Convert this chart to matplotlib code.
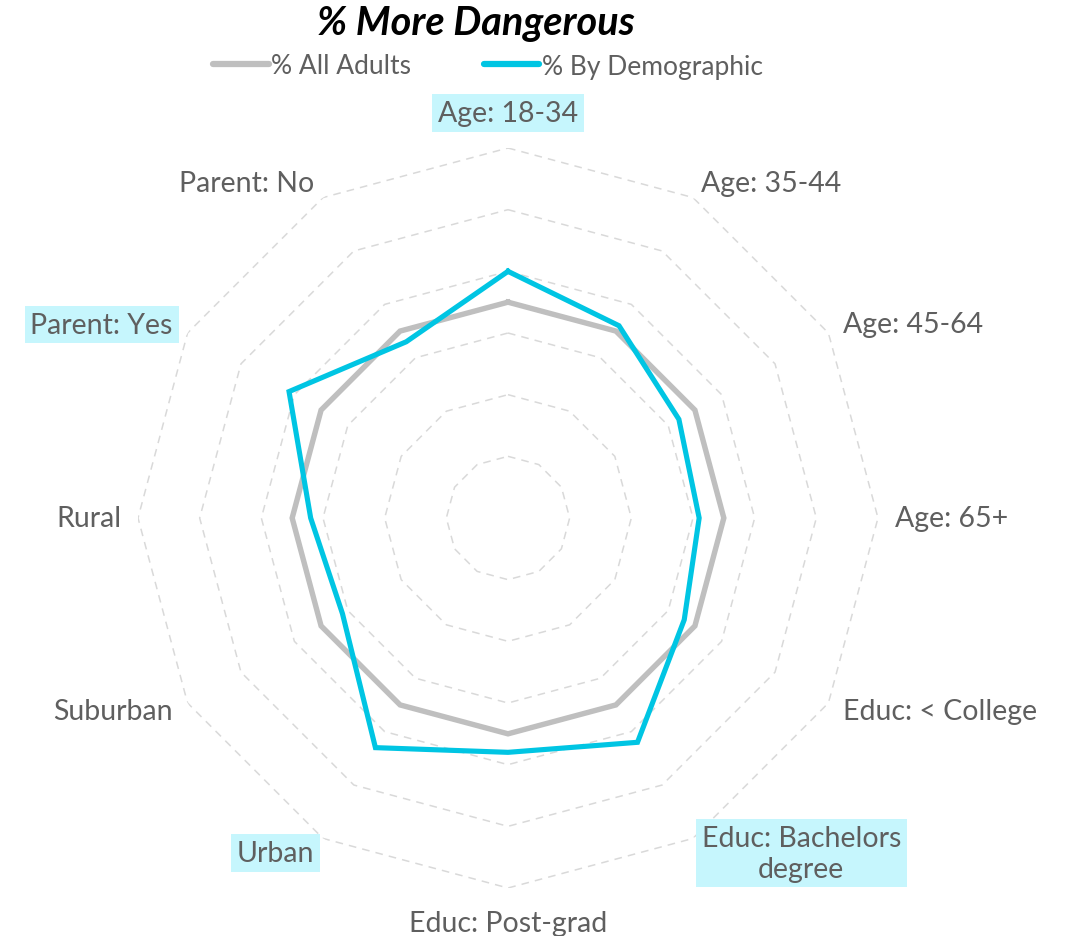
import numpy as np
import matplotlib
matplotlib.use("Agg")
import matplotlib.pyplot as plt
from matplotlib.lines import Line2D

categories = ["Age: 18-34", "Age: 35-44", "Age: 45-64", "Age: 65+",
              "Educ: < College", "Educ: Bachelors\ndegree", "Educ: Post-grad",
              "Urban", "Suburban", "Rural", "Parent: Yes", "Parent: No"]
all_adults = [35, 35, 35, 35, 35, 35, 35, 35, 35, 35, 35, 35]
by_demo = [40, 36, 32, 31, 33, 42, 38, 43, 31, 32, 41, 33]
highlighted = ["Age: 18-34", "Educ: Bachelors\ndegree", "Urban", "Parent: Yes"]
grid_levels = [10, 20, 30, 40, 50, 60]

GRAY = "#bfbfbf"
CYAN = "#00c5e3"
TEXT = "#5f5f5f"
HL = "#c6f6fd"
FONT = "Lato"

W, H = 1068, 937
fig = plt.figure(figsize=(W / 100, H / 100), dpi=100)
cx, cy, R = 508, 519, 370
ax = fig.add_axes([(cx - R) / W, (H - cy - R) / H, 2 * R / W, 2 * R / H], projection="polar")
ax.set_theta_zero_location("N")
ax.set_theta_direction(-1)
ax.set_ylim(0, 60)
ax.grid(False)
ax.spines["polar"].set_visible(False)
ax.set_xticks([])
ax.set_yticks([])
ax.patch.set_alpha(0)

n = len(categories)
theta = np.linspace(0, 2 * np.pi, n, endpoint=False)
tclosed = np.concatenate([theta, theta[:1]])

for lvl in grid_levels:
    ax.plot(tclosed, [lvl] * (n + 1), color="#d9d9d9", lw=1.1,
            dashes=(5, 4), zorder=1)

ax.plot(tclosed, all_adults + all_adults[:1], color=GRAY, lw=3.9, zorder=3,
        solid_joinstyle="miter")
ax.plot(tclosed, by_demo + by_demo[:1], color=CYAN, lw=3.7, zorder=4,
        solid_joinstyle="miter")

r_side = 387 * 60 / R
r_tb = 405 * 60 / R
for t, lab in zip(theta, categories):
    deg = np.degrees(t) % 360
    if np.isclose(deg, 0) or np.isclose(deg, 180):
        ha, r = "center", r_tb
    elif deg < 180:
        ha, r = "left", r_side
    else:
        ha, r = "right", r_side
    kw = {}
    if lab in highlighted:
        kw["bbox"] = dict(boxstyle="square,pad=0.2", fc=HL, ec="none")
    ax.text(t, r, lab, ha=ha, va="center", multialignment="center",
            fontsize=20.5, color=TEXT, family=FONT, clip_on=False,
            linespacing=1.25, **kw)

fig.text(476 / W, 1 - 23 / H, "% More Dangerous", ha="center", va="center",
         fontsize=28.5, fontweight="bold", style="italic", color="black",
         family=FONT)

handles = [Line2D([], [], color=GRAY, lw=4.5, solid_capstyle="round"),
           Line2D([], [], color=CYAN, lw=4.5, solid_capstyle="round")]
leg = fig.legend(handles, ["% All Adults", "% By Demographic"], ncol=2,
                 loc="center", bbox_to_anchor=(488 / W, 1 - 67 / H),
                 frameon=False, handlelength=2.1, handletextpad=0.1,
                 columnspacing=2.75, prop={"family": FONT, "size": 19})
for t in leg.get_texts():
    t.set_color(TEXT)

fig.savefig("out.png", dpi=100, facecolor="white")
